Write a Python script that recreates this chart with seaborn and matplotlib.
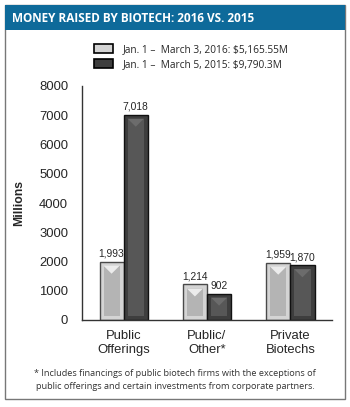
import matplotlib
matplotlib.use("Agg")
import matplotlib.pyplot as plt
import matplotlib.patches as mpatches
import seaborn as sns
import pandas as pd

categories = ["Public\nOfferings", "Public/\nOther*", "Private\nBiotechs"]
series_names = ["Jan. 1 –  March 3, 2016: $5,165.55M", "Jan. 1 –  March 5, 2015: $9,790.3M"]
values_2016 = [1993, 1214, 1959]
values_2015 = [7018, 902, 1870]
yticks = [0, 1000, 2000, 3000, 4000, 5000, 6000, 7000, 8000]

df = pd.DataFrame({
    "cat": categories * 2,
    "series": [series_names[0]] * 3 + [series_names[1]] * 3,
    "val": values_2016 + values_2015,
})

sns.set_style("white")
plt.rcParams["font.family"] = ["Liberation Sans", "DejaVu Sans"]

W, H = 350, 407
fig = plt.figure(figsize=(W / 100, H / 100), dpi=100)
ax = fig.add_axes([82 / W, 1 - 320 / H, 250 / W, 234 / H])

outer_cols = ["#d4d4d4", "#3e3e3e"]
edge_cols = ["#4a4a4a", "#111111"]
inner_cols = ["#b4b4b4", "#575757"]

sns.barplot(data=df, x="cat", y="val", hue="series", hue_order=series_names,
            palette=outer_cols, width=0.58, gap=0, ax=ax, legend=False,
            edgecolor="black", linewidth=1.0, saturation=1)

ax.set_xlim(-0.5, 2.5)
ax.set_ylim(0, 8000)
ax.set_yticks(yticks)
ax.set_yticklabels([str(t) for t in yticks], fontsize=9.4)
ax.tick_params(axis="y", direction="in", length=4, width=1, color="#333333", pad=10)
ax.tick_params(axis="x", length=0, pad=7, labelsize=9.4)
for lbl in ax.get_xticklabels():
    lbl.set_linespacing(1.25)
ax.set_xlabel("")
ax.set_ylabel("Millions", fontsize=8.8, fontweight="bold", labelpad=10)
for s in ["top", "right"]:
    ax.spines[s].set_visible(False)
for s in ["left", "bottom"]:
    ax.spines[s].set_color("#333333")
    ax.spines[s].set_linewidth(1.0)

# bevel effect and value labels derived from library patches
px_x = (ax.get_xlim()[1] - ax.get_xlim()[0]) / 250
px_y = (ax.get_ylim()[1] - ax.get_ylim()[0]) / 234
for i, cont in enumerate(ax.containers):
    for p in cont:
        x0, w, h = p.get_x(), p.get_width(), p.get_height()
        p.set_edgecolor(edge_cols[i])
        inset_x = 4 * px_x
        inset_y = 4 * px_y
        inner = mpatches.Rectangle((x0 + inset_x, inset_y), w - 2 * inset_x, h - 2 * inset_y,
                                   facecolor=inner_cols[i], edgecolor="none", zorder=p.get_zorder() + 0.1)
        ax.add_patch(inner)
        tri = mpatches.Polygon([(x0 + inset_x, h - inset_y), (x0 + w - inset_x, h - inset_y),
                                (x0 + w / 2, h - inset_y - 8 * px_y)], closed=True,
                               facecolor="#ececec" if i == 0 else "#6c6c6c", edgecolor="none",
                               zorder=p.get_zorder() + 0.2)
        ax.add_patch(tri)
    ax.bar_label(cont, labels=[f"{v:,.0f}" for v in cont.datavalues], padding=2, fontsize=7.4)

# frame and title bar
fig.patches.append(mpatches.Rectangle((5 / W, 1 - 399 / H), 340 / W, (399 - 5) / H,
                                      transform=fig.transFigure, fill=False,
                                      edgecolor="#777777", linewidth=1.0))
fig.patches.append(mpatches.Rectangle((5 / W, 1 - 30 / H), 340 / W, 25 / H,
                                      transform=fig.transFigure, facecolor="#0e6a9a",
                                      edgecolor="none"))
fig.text(12 / W, 1 - 18 / H, "MONEY RAISED BY BIOTECH: 2016 VS. 2015", color="white",
         fontsize=8.5, fontweight="bold", va="center", ha="left", family=["Open Sans", "DejaVu Sans"])

# legend
handles = [mpatches.Patch(facecolor=outer_cols[i], edgecolor="black", linewidth=1.2) for i in range(2)]
fig.legend(handles, series_names, loc="upper left", bbox_to_anchor=(87 / W, 1 - 37 / H),
           frameon=False, handlelength=1.9, handleheight=0.9, handletextpad=0.9,
           labelspacing=0.4, borderpad=0.2,
           prop={"family": ["Liberation Sans Narrow", "Open Sans", "DejaVu Sans"], "size": 7.3})

fig.text(175 / W, 1 - 380 / H,
         "* Includes financings of public biotech firms with the exceptions of\n"
         "public offerings and certain investments from corporate partners.",
         ha="center", va="center", fontsize=6.6, color="#333333", linespacing=1.45,
         family=["Open Sans", "DejaVu Sans"])

fig.savefig("out.png", dpi=100)
